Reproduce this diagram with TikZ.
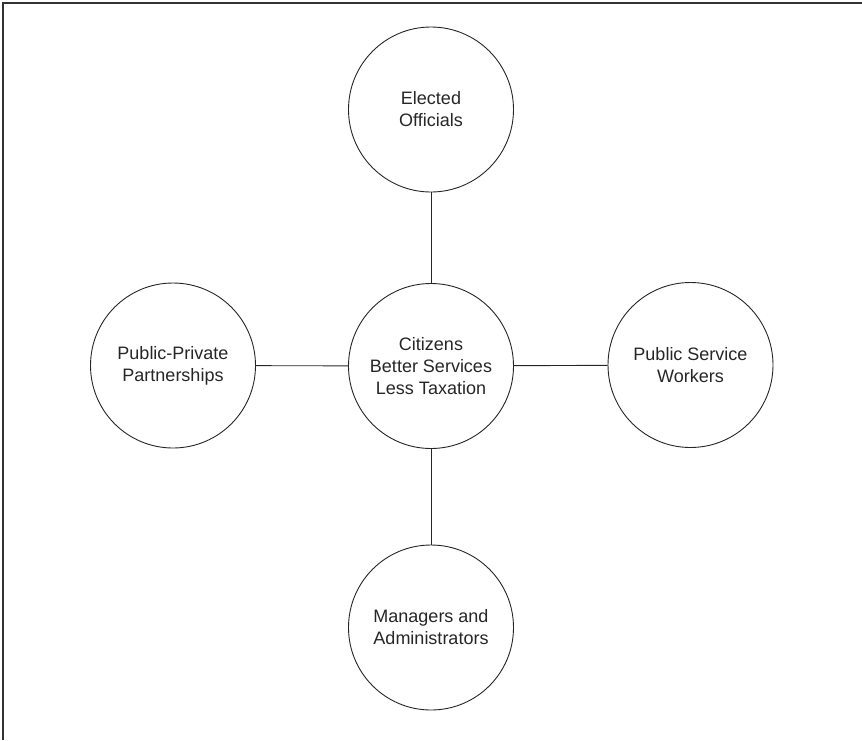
\documentclass[tikz,border=0pt]{standalone}
\usepackage{fontspec}
\setmainfont{Liberation Sans}
\begin{document}
\begin{tikzpicture}[x=1pt,y=-1pt,
  bubble/.style={circle,draw=black!85,line width=0.9pt,minimum size=165pt,inner sep=0pt,
    align=center,font=\fontsize{18}{22}\selectfont,text=black!85},
  link/.style={draw=black!85,line width=0.9pt}]
\useasboundingbox (0,0) rectangle (862,740);
\draw[black!80,line width=1.8pt] (3,740) -- (3,3) -- (862,3);
\node[bubble] (c) at (431,366) {Citizens\\Better Services\\Less Taxation};
\node[bubble] (t) at (431,109.5) {Elected\\Officials};
\node[bubble] (l) at (173,365.5) {Public-Private\\Partnerships};
\node[bubble] (r) at (690.5,365) {Public Service\\Workers};
\node[bubble] (b) at (431,627.5) {Managers and\\Administrators};
\draw[link] (c) -- (t);
\draw[link] (c) -- (l);
\draw[link] (c) -- (r);
\draw[link] (c) -- (b);
\end{tikzpicture}
\end{document}
